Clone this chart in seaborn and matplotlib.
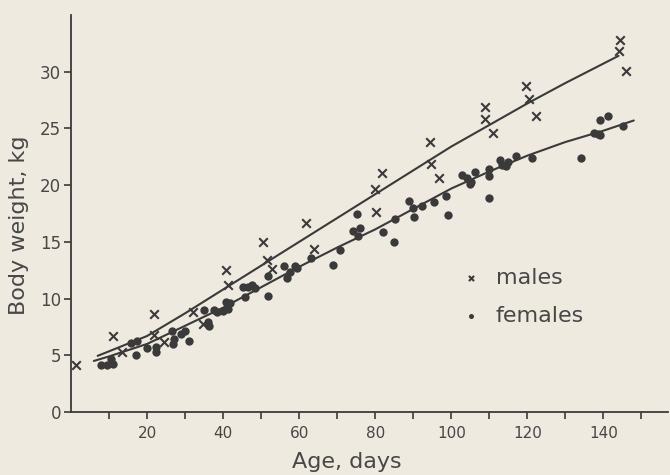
import matplotlib
matplotlib.use('Agg')
import matplotlib.pyplot as plt
import numpy as np
import pandas as pd
import seaborn as sns

# body weight of males (crosses)
male_age = [1.3, 11, 13.3, 21.9, 21.9, 24.5, 32.2, 34.8, 40.8, 41.4,
            50.6, 51.5, 52.8, 61.8, 64, 80.3, 80, 81.9, 94.5, 94.7,
            96.7, 109, 109, 111, 119.7, 120.5, 122.4, 144.3, 144, 146]
male_wt = [4.1, 6.7, 5.3, 8.6, 6.8, 6.2, 8.8, 7.8, 12.5, 11.2,
           15.0, 13.4, 12.6, 16.7, 14.4, 17.6, 19.7, 21.1, 23.8, 21.9,
           20.6, 26.9, 25.8, 24.6, 28.7, 27.6, 26.1, 32.8, 31.8, 30.1]

# body weight of females (dots)
female_age = [7.8, 9.5, 11, 10.5, 15.8, 17.4, 17.1, 19.9, 22.4, 22.4,
              26.9, 27.2, 26.5, 29, 30, 31, 35.1, 36, 36.4, 37.7,
              38.3, 40, 40.8, 41.3, 41.9, 45.3, 46.6, 47.5, 48.5, 45.8,
              51.7, 51.9, 55.9, 56.9, 57.5, 58.8, 59.5, 63.1, 68.9, 70.8,
              74.1, 75.2, 75.6, 76, 82, 85, 85.3, 88.8, 89.9, 90.3,
              92.3, 95.5, 98.7, 99.1, 102.8, 104.1, 105, 105.2, 106.3, 109.8,
              110, 110, 112.7, 113.3, 114.5, 115, 117.1, 121.2, 134.2, 137.5,
              138.7, 139.2, 139, 141.2, 145.1]
female_wt = [4.1, 4.1, 4.2, 4.7, 6.1, 6.3, 5.0, 5.6, 5.3, 5.7,
             6.0, 6.4, 7.1, 6.9, 7.1, 6.3, 9.0, 7.9, 7.6, 9.0,
             8.8, 8.9, 9.7, 9.1, 9.6, 11.0, 11.0, 11.2, 10.9, 10.1,
             10.2, 12.0, 12.9, 11.8, 12.3, 12.9, 12.7, 13.6, 13.0, 14.3,
             16.0, 17.5, 15.5, 16.2, 15.9, 15.0, 17.0, 18.6, 18.0, 17.2,
             18.2, 18.5, 19.0, 17.4, 20.9, 20.6, 20.1, 20.3, 21.2, 18.9,
             21.4, 20.8, 22.2, 21.8, 21.7, 22.0, 22.6, 22.4, 22.4, 24.6,
             24.5, 24.4, 25.7, 26.1, 25.2]

# fitted growth curves
male_fit_age = [7, 10, 20, 30, 40, 50, 60, 70, 80, 90, 100, 110, 120, 130, 144]
male_fit_wt = [4.95, 5.35, 6.7, 8.7, 10.8, 12.9, 15.0, 17.1, 19.2, 21.3,
               23.4, 25.3, 27.2, 29.0, 31.4]
female_fit_age = [6, 10, 20, 30, 40, 50, 60, 70, 80, 90, 100, 110, 120, 130, 140, 148]
female_fit_wt = [4.5, 4.9, 6.0, 7.6, 9.2, 11.0, 12.8, 14.5, 16.1, 17.9,
                 19.7, 21.2, 22.6, 23.8, 24.8, 25.7]

paper = '#eeeadf'
ink = '#3a3a3a'
text_ink = '#474747'

sns.set_style('ticks')
plt.rcParams['font.family'] = ['DejaVu Sans']

fig = plt.figure(figsize=(6.7, 4.75), dpi=100, facecolor=paper)
ax = fig.add_axes([71/670, 63/475, 597/670, 397/475])
ax.set_facecolor(paper)

sns.lineplot(x=male_fit_age, y=male_fit_wt, ax=ax, color=ink, linewidth=1.5)
sns.lineplot(x=female_fit_age, y=female_fit_wt, ax=ax, color=ink, linewidth=1.5)
sns.scatterplot(x=male_age, y=male_wt, ax=ax, marker='x', s=38, color=ink,
                linewidth=1.5, label='males', zorder=3)
sns.scatterplot(x=female_age, y=female_wt, ax=ax, marker='o', s=36, color=ink,
                edgecolor=ink, linewidth=0, label='females', zorder=3)

ax.set_xlim(0, 157)
ax.set_ylim(0, 35)
ax.set_xticks(np.arange(10, 151, 10))
ax.set_xticklabels([str(t) if t % 20 == 0 else '' for t in range(10, 151, 10)])
ax.set_yticks(np.arange(0, 31, 5))

for s in ['top', 'right']:
    ax.spines[s].set_visible(False)
for s in ['left', 'bottom']:
    ax.spines[s].set_color(ink)
    ax.spines[s].set_linewidth(1.3)
ax.tick_params(axis='both', colors=ink, labelcolor=text_ink, length=5, width=1.2)
ax.tick_params(axis='x', labelsize=11, pad=5)
ax.tick_params(axis='y', labelsize=12, pad=2)

ax.set_xlabel('Age, days', fontsize=16, color=text_ink)
ax.set_ylabel('Body weight, kg', fontsize=16, color=text_ink)
ax.xaxis.set_label_coords(0.462, -0.1)
ax.yaxis.set_label_coords(-0.07, 0.47)

leg = ax.legend(loc='center left', bbox_to_anchor=(0.6, 0.29), frameon=False,
                fontsize=16, handletextpad=0.1, labelspacing=0.8,
                markerscale=0.6, labelcolor=text_ink)

fig.savefig('out.png', dpi=100, facecolor=paper)
